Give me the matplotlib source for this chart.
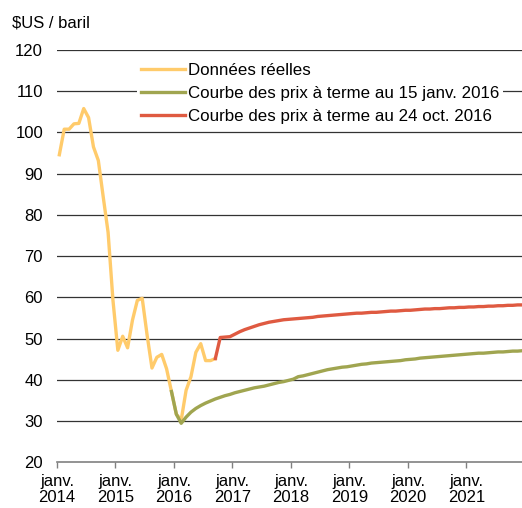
import matplotlib
matplotlib.use("Agg")
import matplotlib.pyplot as plt
import numpy as np

plt.rcParams['font.family'] = ['Liberation Sans', 'DejaVu Sans']

# Monthly values, month index 0 = Jan 2014
actual_start = 0
actual = [94.6, 100.8, 100.8, 102.1, 102.2, 105.8, 103.6, 96.5, 93.2, 84.4, 75.8, 59.3,
          47.2, 50.6, 47.8, 54.5, 59.3, 59.8, 50.9, 42.9, 45.5, 46.2, 42.7, 37.2,
          31.7, 30.3, 37.5, 40.8, 46.7, 48.8, 44.7, 44.7, 45.2]

jan_start = 23  # Dec 2015
fwd_jan = [37.2, 31.7, 29.5, 31.0, 32.2, 33.1, 33.8, 34.4, 34.9, 35.4, 35.8, 36.2,
           36.5, 36.9, 37.2, 37.5, 37.8, 38.1, 38.3, 38.5, 38.8, 39.1, 39.4, 39.6,
           39.9, 40.2, 40.8, 41.0, 41.3, 41.6, 41.9, 42.2, 42.5, 42.7, 42.9, 43.1,
           43.2, 43.4, 43.6, 43.8, 43.9, 44.1, 44.2, 44.3, 44.4, 44.5, 44.6, 44.7,
           44.9, 45.0, 45.1, 45.3, 45.4, 45.5, 45.6, 45.7, 45.8, 45.9, 46.0, 46.1,
           46.2, 46.3, 46.4, 46.5, 46.5, 46.6, 46.7, 46.8, 46.8, 46.9, 47.0, 47.0,
           47.1]

oct_start = 32  # Sep 2016
fwd_oct = [45.2, 50.3, 50.4, 50.5, 51.1, 51.7, 52.2, 52.6, 53.0, 53.4, 53.7, 54.0,
           54.2, 54.4, 54.6, 54.7, 54.8, 54.9, 55.0, 55.1, 55.2, 55.4, 55.5, 55.6,
           55.7, 55.8, 55.9, 56.0, 56.1, 56.2, 56.2, 56.3, 56.4, 56.4, 56.5, 56.6,
           56.7, 56.7, 56.8, 56.9, 56.9, 57.0, 57.1, 57.2, 57.2, 57.3, 57.3, 57.4,
           57.5, 57.5, 57.6, 57.6, 57.7, 57.7, 57.8, 57.8, 57.9, 57.9, 58.0, 58.0,
           58.1, 58.1, 58.2, 58.2]

labels = ["Données réelles",
          "Courbe des prix à terme au 15 janv. 2016",
          "Courbe des prix à terme au 24 oct. 2016"]
years = list(range(2014, 2022))
tick_labels = [f"janv.\n{y}" for y in years]
yticks = list(range(20, 121, 10))

c_act = '#FFCB6B'
c_jan = '#A0A550'
c_oct = '#DF5A41'

fig = plt.figure(figsize=(5.22, 5.08), dpi=100)
ax = fig.add_axes([0.109, 0.0896, 0.891, 0.812])

def xs(start, n):
    return np.arange(start, start + n) + 0.5

l1, = ax.plot(xs(actual_start, len(actual)), actual, color=c_act, lw=2.4, zorder=3, solid_joinstyle='round')
l2, = ax.plot(xs(jan_start, len(fwd_jan)), fwd_jan, color=c_jan, lw=2.4, zorder=4, solid_joinstyle='round')
l3, = ax.plot(xs(oct_start, len(fwd_oct)), fwd_oct, color=c_oct, lw=2.4, zorder=5, solid_joinstyle='round')

ax.set_xlim(0, 95.4)
ax.set_ylim(20, 120)
ax.set_yticks(yticks)
ax.set_xticks([12 * i for i in range(len(years))])
ax.set_xticklabels(tick_labels, fontsize=12, linespacing=1.15)
ax.tick_params(axis='y', length=0, labelsize=12, pad=10)
ax.tick_params(axis='x', length=4, width=1, color='#808080', pad=4)
for y in yticks[1:]:
    ax.axhline(y, color='#333333', lw=0.9, zorder=1)
for s in ['left', 'right', 'top']:
    ax.spines[s].set_visible(False)
ax.spines['bottom'].set_color('#808080')
ax.spines['bottom'].set_linewidth(1.2)

fig.text(0.023, 0.955, "$US / baril", fontsize=12, ha='left', va='center')

leg = ax.legend([l1, l2, l3], labels, loc='upper left',
                bbox_to_anchor=(0.263, 0.883), bbox_transform=fig.transFigure,
                fontsize=12.2, frameon=True, fancybox=False, framealpha=1,
                facecolor='white', edgecolor='none', handlelength=2.6,
                handletextpad=0.2, labelspacing=0.48, borderpad=0.2, borderaxespad=0)
leg.set_zorder(10)

fig.savefig('out.png', dpi=100)
